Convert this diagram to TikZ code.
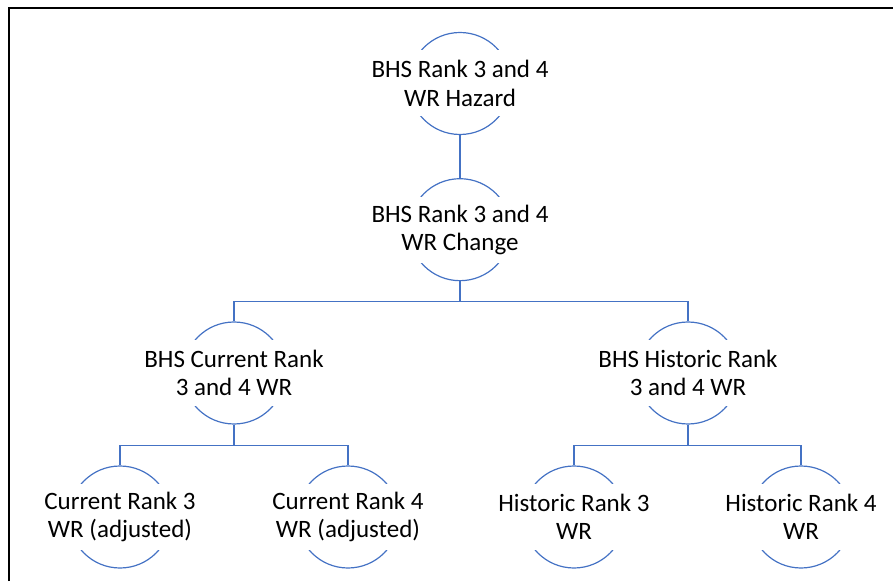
\documentclass[tikz,border=0pt]{standalone}
\usepackage{fontspec}
\setmainfont{Carlito}
\usepackage{tikz}
\usetikzlibrary{positioning}

\definecolor{linkblue}{HTML}{4472C4}

\begin{document}
\begin{tikzpicture}[
    x=1pt, y=1pt,
    hub/.style={circle, draw=linkblue, line width=1.2pt, minimum size=102pt, inner sep=0pt},
    caption/.style={fill=white, align=center, inner sep=0pt, minimum height=66pt,
                    font=\fontsize{25}{28.3}\selectfont},
    link/.style={draw=linkblue, line width=1.2pt},
    frame/.style={draw=black, line width=1.5pt}
]
\useasboundingbox (0,0) rectangle (893,581);

% Frame (top and left edge only)
\draw [frame] (9,0) -- (9,573) -- (893,573);

% Hubs
\node [hub] (hazard) at (460,497.5) {};
\node [hub, below=43pt of hazard] (change) {};
\node [hub] (current) at (234,208) {};
\node [hub] (historic) at (688,208) {};
\node [hub] (cur3) at (120,64) {};
\node [hub] (cur4) at (348,64) {};
\node [hub] (his3) at (574,64) {};
\node [hub] (his4) at (801,64) {};

% Connect hubs
\draw [link] (hazard) -- (change);
\draw [link] (change.south) -- ++(0,-20) -| (current.north);
\draw [link] (change.south) -- ++(0,-20) -| (historic.north);
\draw [link] (current.south) -- ++(0,-20.5) -| (cur3.north);
\draw [link] (current.south) -- ++(0,-20.5) -| (cur4.north);
\draw [link] (historic.south) -- ++(0,-20.5) -| (his3.north);
\draw [link] (historic.south) -- ++(0,-20.5) -| (his4.north);

% Captions
\node [caption] (hazard-text) at (hazard) {BHS Rank 3 and 4\\WR Hazard};
\node [caption] (change-text) at (change) {BHS Rank 3 and 4\\WR Change};
\node [caption] (current-text) at (current) {BHS Current Rank\\3 and 4 WR};
\node [caption] (historic-text) at (historic) {BHS Historic Rank\\3 and 4 WR};
\node [caption] (cur3-text) at (cur3) {Current Rank 3\\WR (adjusted)};
\node [caption] (cur4-text) at (cur4) {Current Rank 4\\WR (adjusted)};
\node [caption] (his3-text) at (his3) {Historic Rank 3\\WR};
\node [caption] (his4-text) at (his4) {Historic Rank 4\\WR};

\end{tikzpicture}
\end{document}
